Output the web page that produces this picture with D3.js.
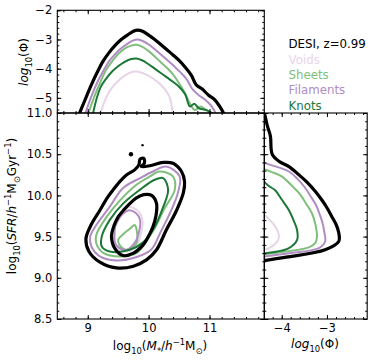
<!DOCTYPE html>
<html>
<head>
<meta charset="utf-8">
<script src="https://cdn.jsdelivr.net/npm/d3@7"></script>
<style>
  body { margin: 0; background: #fff; }
  svg { display: block; font-family: "DejaVu Sans", sans-serif; }
</style>
</head>
<body>
<div id="chart"></div>
<script>
// ============================================================
//  DATA
// ============================================================

// -- Top panel: mass function, [log10 M*, log10 Phi] --------
const massTotal = [[8.85,-5.6],[8.95,-5.1],[9.05,-4.6],[9.15,-4.15],[9.25,-3.75],[9.35,-3.45],[9.45,-3.2],[9.55,-3.0],[9.65,-2.85],[9.75,-2.72],[9.82,-2.68],[9.9,-2.72],[10.0,-2.85],[10.1,-3.0],[10.2,-3.17],[10.3,-3.35],[10.4,-3.53],[10.5,-3.72],[10.6,-3.95],[10.7,-4.22],[10.78,-4.55],[10.88,-4.7],[10.98,-4.9],[11.08,-5.05],[11.17,-5.3],[11.25,-5.6]];
const massFilaments = [[8.95,-5.6],[9.05,-5.0],[9.15,-4.5],[9.25,-4.1],[9.35,-3.75],[9.45,-3.5],[9.55,-3.3],[9.65,-3.15],[9.75,-3.03],[9.82,-3.0],[9.92,-3.07],[10.02,-3.2],[10.12,-3.37],[10.22,-3.55],[10.32,-3.73],[10.42,-3.92],[10.52,-4.12],[10.62,-4.35],[10.72,-4.7],[10.82,-4.9],[10.92,-5.05],[11.02,-5.25],[11.12,-5.6]];
const massSheets = [[9.0,-5.6],[9.1,-5.0],[9.2,-4.5],[9.3,-4.05],[9.4,-3.75],[9.5,-3.5],[9.6,-3.32],[9.7,-3.22],[9.8,-3.18],[9.9,-3.25],[10.0,-3.4],[10.1,-3.58],[10.2,-3.78],[10.3,-3.97],[10.4,-4.2],[10.5,-4.5],[10.6,-4.85],[10.68,-5.2],[10.76,-5.42],[10.85,-5.3],[10.95,-5.42],[11.1,-5.6]];
const massKnots = [[9.08,-5.6],[9.15,-5.0],[9.22,-4.6],[9.3,-4.35],[9.4,-4.1],[9.5,-3.92],[9.6,-3.78],[9.7,-3.68],[9.8,-3.65],[9.9,-3.72],[10.0,-3.85],[10.1,-4.0],[10.2,-4.15],[10.3,-4.3],[10.4,-4.45],[10.5,-4.62],[10.6,-4.88],[10.68,-5.3],[10.75,-5.2],[10.82,-5.35],[10.95,-5.42],[11.1,-5.6]];
const massVoids = [[9.2,-5.6],[9.3,-5.0],[9.4,-4.65],[9.5,-4.42],[9.6,-4.25],[9.7,-4.13],[9.8,-4.1],[9.9,-4.15],[10.0,-4.25],[10.1,-4.38],[10.2,-4.55],[10.3,-4.8],[10.35,-5.0],[10.4,-5.6]];

// -- Right panel: SFR function, [log10 Phi, log10 SFR] ------
const sfrTotal = [[-4.4,11.05],[-4.32,10.85],[-4.25,10.72],[-4.21,10.5],[-4.05,10.41],[-3.84,10.35],[-3.62,10.25],[-3.42,10.15],[-3.26,10.05],[-3.12,9.95],[-3.0,9.85],[-2.9,9.75],[-2.8,9.65],[-2.74,9.55],[-2.74,9.44],[-3.04,9.34],[-3.9,9.25],[-4.5,9.2]];
const sfrFilaments = [[-4.5,10.42],[-4.3,10.38],[-3.84,10.29],[-3.65,10.2],[-3.48,10.09],[-3.35,9.98],[-3.24,9.88],[-3.16,9.77],[-3.1,9.67],[-3.06,9.56],[-3.04,9.44],[-3.18,9.36],[-3.8,9.3],[-4.5,9.25]];
const sfrSheets = [[-4.5,10.34],[-4.2,10.28],[-4.0,10.23],[-3.78,10.12],[-3.62,10.03],[-3.46,9.9],[-3.33,9.78],[-3.26,9.66],[-3.22,9.5],[-3.26,9.42],[-3.4,9.37],[-3.9,9.32],[-4.5,9.28]];
const sfrKnots = [[-4.5,10.23],[-4.3,10.12],[-4.14,10.06],[-4.0,9.95],[-3.84,9.82],[-3.74,9.7],[-3.66,9.58],[-3.66,9.46],[-3.84,9.36],[-4.2,9.31],[-4.5,9.29]];
const sfrVoids = [[-4.5,9.84],[-4.3,9.72],[-4.14,9.62],[-4.06,9.5],[-4.1,9.44],[-4.28,9.36],[-4.5,9.32]];

// -- Main panel: closed density contours, [log10 M*, log10 SFR]
const ctTotalOuter = [[9.47,9.12],[9.2,9.19],[9.02,9.32],[8.97,9.47],[9.04,9.62],[9.2,9.82],[9.32,9.97],[9.42,10.07],[9.53,10.17],[9.64,10.25],[9.77,10.31],[9.84,10.37],[9.86,10.44],[9.92,10.45],[9.93,10.39],[9.88,10.35],[10.02,10.36],[10.24,10.4],[10.4,10.39],[10.54,10.29],[10.59,10.17],[10.57,10.03],[10.46,9.82],[10.29,9.58],[10.13,9.34],[9.97,9.22],[9.75,9.14]];
const ctTotalInner = [[10.05,10.0],[10.13,9.9],[10.12,9.75],[10.07,9.62],[9.98,9.48],[9.91,9.4],[9.75,9.3],[9.58,9.27],[9.45,9.35],[9.39,9.5],[9.43,9.63],[9.5,9.74],[9.6,9.83],[9.69,9.9],[9.8,9.97],[9.92,10.01]];
const ctFilOuter = [[10.29,10.35],[10.51,10.23],[10.48,10.03],[10.36,9.8],[10.2,9.56],[10.04,9.34],[9.75,9.24],[9.47,9.21],[9.2,9.26],[9.06,9.38],[9.04,9.5],[9.14,9.64],[9.36,9.86],[9.58,10.09],[9.86,10.21],[10.07,10.29]];
const ctFilInner = [[9.69,9.82],[9.8,9.78],[9.86,9.7],[9.85,9.58],[9.8,9.46],[9.72,9.38],[9.64,9.34],[9.52,9.36],[9.45,9.42],[9.44,9.52],[9.45,9.62],[9.5,9.7],[9.58,9.78]];
const ctSheOuter = [[10.18,10.29],[10.4,10.23],[10.43,10.07],[10.26,9.84],[10.1,9.6],[9.95,9.43],[9.8,9.3],[9.53,9.26],[9.26,9.3],[9.14,9.42],[9.14,9.52],[9.31,9.74],[9.53,9.94],[9.8,10.13],[10.02,10.23]];
const ctSheInner = [[9.77,9.64],[9.81,9.55],[9.8,9.42],[9.72,9.36],[9.62,9.34],[9.52,9.4],[9.5,9.46],[9.6,9.54],[9.7,9.6]];
const ctKnoOuter = [[10.24,10.21],[10.32,10.07],[10.24,9.86],[10.07,9.58],[9.91,9.43],[9.69,9.34],[9.36,9.32],[9.23,9.38],[9.23,9.5],[9.36,9.7],[9.58,9.9],[9.86,10.07],[10.1,10.19]];
const ctVoiInner = [[9.66,9.86],[9.84,9.8],[9.9,9.68],[9.88,9.55],[9.82,9.42],[9.7,9.33],[9.55,9.33],[9.45,9.38],[9.42,9.5],[9.44,9.65],[9.52,9.76]];
const ctIslands = [[9.71,10.5,2.2],[9.9,10.61,1.2]];   // tiny contour islands: x, y, radius px

// -- Tick values -------------------------------------------
const massTicks = [9, 10, 11];
const sfrTicks = [8.5, 9.0, 9.5, 10.0, 10.5, 11.0];
const phiTopTicks = [-5, -4, -3, -2];
const phiRightTicks = [-4, -3];

// -- Legend --------------------------------------------------
const legendTitle = "DESI, z=0.99";
const seriesNames = ["Voids", "Sheets", "Filaments", "Knots"];

// ============================================================
//  CONFIGURATION
// ============================================================
const CONFIG = {
    WIDTH: 374,
    HEIGHT: 360,
    // panel edges (px)
    LEFT: 57.3, MID_X: 264.3, RIGHT: 367.2,
    TOP: 10.3, MID_Y: 113, BOTTOM: 319,

    COLORS: { Voids: "#e7d4e8", Sheets: "#7fbf7b", Filaments: "#af8dc3", Knots: "#1b7837", Total: "#000" },
    LW_TOTAL: 3.2,
    LW_SERIES: 2,

    MAJOR_TICK: 4,
    MINOR_TICK: 2,
    TICK_FONT: 11.5,
    LABEL_FONT: 12,
    LEGEND_FONT: 11.8,
};

// ============================================================
//  SETUP
// ============================================================
const svg = d3.select("#chart").append("svg")
    .attr("width", CONFIG.WIDTH)
    .attr("height", CONFIG.HEIGHT);

// --- Scales ---
const xMass = d3.scaleLinear().domain([8.5, 11.9]).range([CONFIG.LEFT, CONFIG.MID_X]);
const yPhi = d3.scaleLinear().domain([-5.52, -2]).range([CONFIG.MID_Y, CONFIG.TOP]);
const ySfr = d3.scaleLinear().domain([8.5, 11]).range([CONFIG.BOTTOM, CONFIG.MID_Y]);
const xPhi = d3.scaleLinear().domain([-4.385, -2.11]).range([CONFIG.MID_X, CONFIG.RIGHT]);

// minor ticks every fifth of a major step
const minorsOf = (scale, step) => {
    const [a, b] = d3.extent(scale.domain());
    const out = [];
    for (let v = Math.ceil(a / step - 1e-6) * step; v <= b + 1e-9; v += step) out.push(+v.toFixed(3));
    return out;
};

// --- Clip paths ---
const defs = svg.append("defs");
const panels = {
    top:   [CONFIG.LEFT, CONFIG.TOP, CONFIG.MID_X - CONFIG.LEFT, CONFIG.MID_Y - CONFIG.TOP],
    main:  [CONFIG.LEFT, CONFIG.MID_Y, CONFIG.MID_X - CONFIG.LEFT, CONFIG.BOTTOM - CONFIG.MID_Y],
    right: [CONFIG.MID_X, CONFIG.MID_Y, CONFIG.RIGHT - CONFIG.MID_X, CONFIG.BOTTOM - CONFIG.MID_Y],
};
Object.entries(panels).forEach(([id, [x, y, w, h]]) => {
    defs.append("clipPath").attr("id", "clip-" + id)
        .append("rect").attr("x", x).attr("y", y).attr("width", w).attr("height", h);
});

// ============================================================
//  MARKS
// ============================================================
const topLine = d3.line().x(d => xMass(d[0])).y(d => yPhi(d[1])).curve(d3.curveCatmullRom.alpha(0.5));
const rightLine = d3.line().x(d => xPhi(d[0])).y(d => ySfr(d[1])).curve(d3.curveCatmullRom.alpha(0.5));
const contour = d3.line().x(d => xMass(d[0])).y(d => ySfr(d[1])).curve(d3.curveCatmullRomClosed.alpha(0.5));

const seriesTop = [
    [massVoids, "Voids"], [massSheets, "Sheets"], [massFilaments, "Filaments"], [massKnots, "Knots"], [massTotal, "Total"],
];
const seriesRight = [
    [sfrVoids, "Voids"], [sfrSheets, "Sheets"], [sfrFilaments, "Filaments"], [sfrKnots, "Knots"], [sfrTotal, "Total"],
];
const contours = [
    [ctVoiInner, "Voids"],
    [ctSheOuter, "Sheets"], [ctSheInner, "Sheets"],
    [ctFilOuter, "Filaments"], [ctFilInner, "Filaments"],
    [ctKnoOuter, "Knots"],
    [ctTotalOuter, "Total"], [ctTotalInner, "Total"],
];

const lw = name => name === "Total" ? CONFIG.LW_TOTAL : CONFIG.LW_SERIES;

svg.append("g").attr("clip-path", "url(#clip-top)")
    .selectAll("path").data(seriesTop).join("path")
    .attr("d", d => topLine(d[0]))
    .attr("fill", "none")
    .attr("stroke", d => CONFIG.COLORS[d[1]])
    .attr("stroke-width", d => lw(d[1]))
    .attr("stroke-linejoin", "round");

svg.append("g").attr("clip-path", "url(#clip-right)")
    .selectAll("path").data(seriesRight).join("path")
    .attr("d", d => rightLine(d[0]))
    .attr("fill", "none")
    .attr("stroke", d => CONFIG.COLORS[d[1]])
    .attr("stroke-width", d => lw(d[1]))
    .attr("stroke-linejoin", "round");

const gMain = svg.append("g").attr("clip-path", "url(#clip-main)");
gMain.selectAll("path").data(contours).join("path")
    .attr("d", d => contour(d[0]))
    .attr("fill", "none")
    .attr("stroke", d => CONFIG.COLORS[d[1]])
    .attr("stroke-width", d => lw(d[1]))
    .attr("stroke-linejoin", "round");
gMain.selectAll("circle").data(ctIslands).join("circle")
    .attr("cx", d => xMass(d[0]))
    .attr("cy", d => ySfr(d[1]))
    .attr("r", d => d[2])
    .attr("fill", "#000");

// ============================================================
//  AXES  (ticks inside, on all four sides, with minors)
// ============================================================
function ticks(axisFn, scale, majors, minorStep, translate, labels, fmt) {
    const g = svg.append("g").attr("transform", translate);
    g.append("g")
        .call(axisFn(scale).tickValues(minorsOf(scale, minorStep)).tickSize(-CONFIG.MINOR_TICK).tickFormat(""))
        .call(s => s.select(".domain").remove());
    const major = g.append("g")
        .call(axisFn(scale).tickValues(majors).tickSize(-CONFIG.MAJOR_TICK).tickPadding(labels ? 5 : 0)
            .tickFormat(labels ? fmt : ""))
        .call(s => s.select(".domain").remove());
    major.selectAll("text").attr("font-size", CONFIG.TICK_FONT).attr("font-family", "DejaVu Sans").attr("fill", "#000");
    g.selectAll("line").attr("stroke", "#000").attr("stroke-width", 1);
}

const fInt = d3.format("d");
const fOne = d3.format(".1f");
const { LEFT, MID_X, RIGHT, TOP, MID_Y, BOTTOM } = CONFIG;

// top panel
ticks(d3.axisLeft, yPhi, phiTopTicks, 0.2, `translate(${LEFT},0)`, true, fInt);
ticks(d3.axisRight, yPhi, phiTopTicks, 0.2, `translate(${MID_X},0)`, false);
ticks(d3.axisTop, xMass, massTicks, 0.2, `translate(0,${TOP})`, false);
ticks(d3.axisBottom, xMass, massTicks, 0.2, `translate(0,${MID_Y})`, false);

// main panel
ticks(d3.axisLeft, ySfr, sfrTicks, 0.1, `translate(${LEFT},0)`, true, fOne);
ticks(d3.axisRight, ySfr, sfrTicks, 0.1, `translate(${MID_X},0)`, false);
ticks(d3.axisTop, xMass, massTicks, 0.2, `translate(0,${MID_Y})`, false);
ticks(d3.axisBottom, xMass, massTicks, 0.2, `translate(0,${BOTTOM})`, true, fInt);

// right panel
ticks(d3.axisLeft, ySfr, sfrTicks, 0.1, `translate(${MID_X},0)`, false);
ticks(d3.axisRight, ySfr, sfrTicks, 0.1, `translate(${RIGHT},0)`, false);
ticks(d3.axisTop, xPhi, phiRightTicks, 0.2, `translate(0,${MID_Y})`, false);
ticks(d3.axisBottom, xPhi, phiRightTicks, 0.2, `translate(0,${BOTTOM})`, true, fInt);

// spines
Object.values(panels).forEach(([x, y, w, h]) => {
    svg.append("rect").attr("x", x).attr("y", y).attr("width", w).attr("height", h)
        .attr("fill", "none").attr("stroke", "#000").attr("stroke-width", 1.1);
});

// ============================================================
//  LABELS  (mathtext-like runs with sub/superscripts)
// ============================================================
function mathLabel(x, y, rotate, parts) {
    const fs = CONFIG.LABEL_FONT;
    const t = svg.append("text")
        .attr("transform", `translate(${x},${y})` + (rotate ? " rotate(-90)" : ""))
        .attr("text-anchor", "middle")
        .attr("font-size", fs)
        .attr("fill", "#000");
    let shift = 0;
    parts.forEach(p => {
        const target = p.sub ? fs * 0.3 : p.sup ? -fs * 0.4 : 0;
        t.append("tspan")
            .attr("dy", target - shift)
            .attr("font-size", p.sub || p.sup ? fs * 0.7 : fs)
            .attr("font-style", p.it ? "italic" : "normal")
            .text(p.t);
        shift = target;
    });
}

mathLabel(28, 62, true, [
    { t: "log", it: true }, { t: "10", sub: true }, { t: "(Φ)" },
]);
mathLabel(16, 206, true, [
    { t: "log" }, { t: "10", sub: true }, { t: "(" }, { t: "SFR", it: true }, { t: "/" }, { t: "h", it: true },
    { t: "−1", sup: true }, { t: "M" }, { t: "⊙", sub: true }, { t: "Gyr" }, { t: "−1", sup: true }, { t: ")" },
]);
mathLabel(160, 350, false, [
    { t: "log" }, { t: "10", sub: true }, { t: "(" }, { t: "M", it: true }, { t: "*", sub: true }, { t: "/" },
    { t: "h", it: true }, { t: "−1", sup: true }, { t: "M" }, { t: "⊙", sub: true }, { t: ")" },
]);
mathLabel(315, 348, false, [
    { t: "log", it: true }, { t: "10", sub: true }, { t: "(Φ)" },
]);

// ============================================================
//  LEGEND
// ============================================================
const legend = svg.append("g").attr("font-size", CONFIG.LEGEND_FONT);
legend.append("text").attr("x", 288.5).attr("y", 48.3).attr("fill", "#000").text(legendTitle);
legend.selectAll("text.entry").data(seriesNames).join("text")
    .attr("class", "entry")
    .attr("x", 288.5)
    .attr("y", (d, i) => 63.6 + i * 15.3)
    .attr("fill", d => CONFIG.COLORS[d])
    .text(d => d);
</script>
</body>
</html>
